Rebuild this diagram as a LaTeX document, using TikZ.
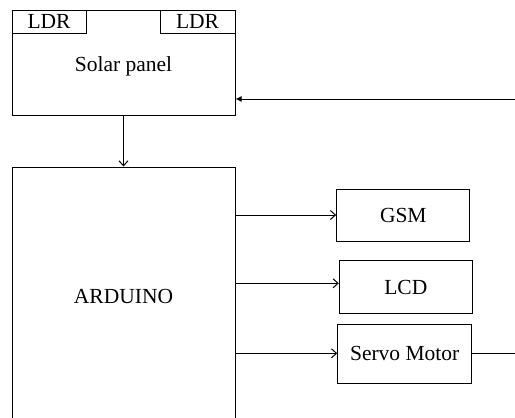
\documentclass[tikz,border=0pt]{standalone}
\usepackage{fontspec}
\setmainfont{Liberation Serif}
\usetikzlibrary{arrows.meta}
\tikzset{
  blk/.style={draw, line width=1pt, inner sep=0pt, font=\fontsize{21.5}{24}\selectfont},
  ldrbox/.style={blk, minimum width=74pt, minimum height=23pt},
  conn/.style={line width=1pt},
  openarrow/.style={conn, -{Straight Barb[length=5pt,width=9pt,line width=1pt]}},
  fillarrow/.style={conn, -{Latex[length=6pt,width=6pt]}}
}
\begin{document}
\begin{tikzpicture}[x=1pt,y=-1pt]
\useasboundingbox (0,0) rectangle (515,418);
\clip (0,0) rectangle (515,418);
% Solar panel
\node[blk, minimum width=223pt, minimum height=105pt, text height=20pt, text depth=3pt] (solar) at (123.5,62.5) {Solar panel};
\node[ldrbox, anchor=north west] (ldrl) at (solar.north west) {LDR};
\node[ldrbox, minimum width=75pt, anchor=north east] (ldrr) at (solar.north east) {LDR};
% Arduino
\node[blk, minimum width=223pt, minimum height=258pt] (ard) at (123.5,296) {ARDUINO};
% Peripherals
\node[blk, minimum width=133.3pt, minimum height=51.7pt] (gsm) at (403.3,215.8) {GSM};
\node[blk, minimum width=133pt, minimum height=53.3pt] (lcd) at (405.8,287.3) {LCD};
\node[blk, minimum width=134pt, minimum height=59pt] (servo) at (404.7,353.8) {Servo Motor};
% connectors
\draw[openarrow] (solar.south) -- (ard.north);
\coordinate (gsmin) at ([yshift=0.8pt]gsm.west);
\coordinate (lcdin) at ([yshift=4pt]lcd.west);
\coordinate (servoin) at ([yshift=0.5pt]servo.west);
\draw[openarrow] (ard.east |- gsmin) -- (gsmin);
\draw[openarrow] (ard.east |- lcdin) -- (lcdin);
\draw[openarrow] (ard.east |- servoin) -- (servoin);
\coordinate (servoout) at (516,353.3);
\draw[conn] (servo.east |- servoout) -- (servoout);
\coordinate (fbin) at (516,99);
\draw[fillarrow] (fbin) -- (solar.east |- fbin);
\end{tikzpicture}
\end{document}
